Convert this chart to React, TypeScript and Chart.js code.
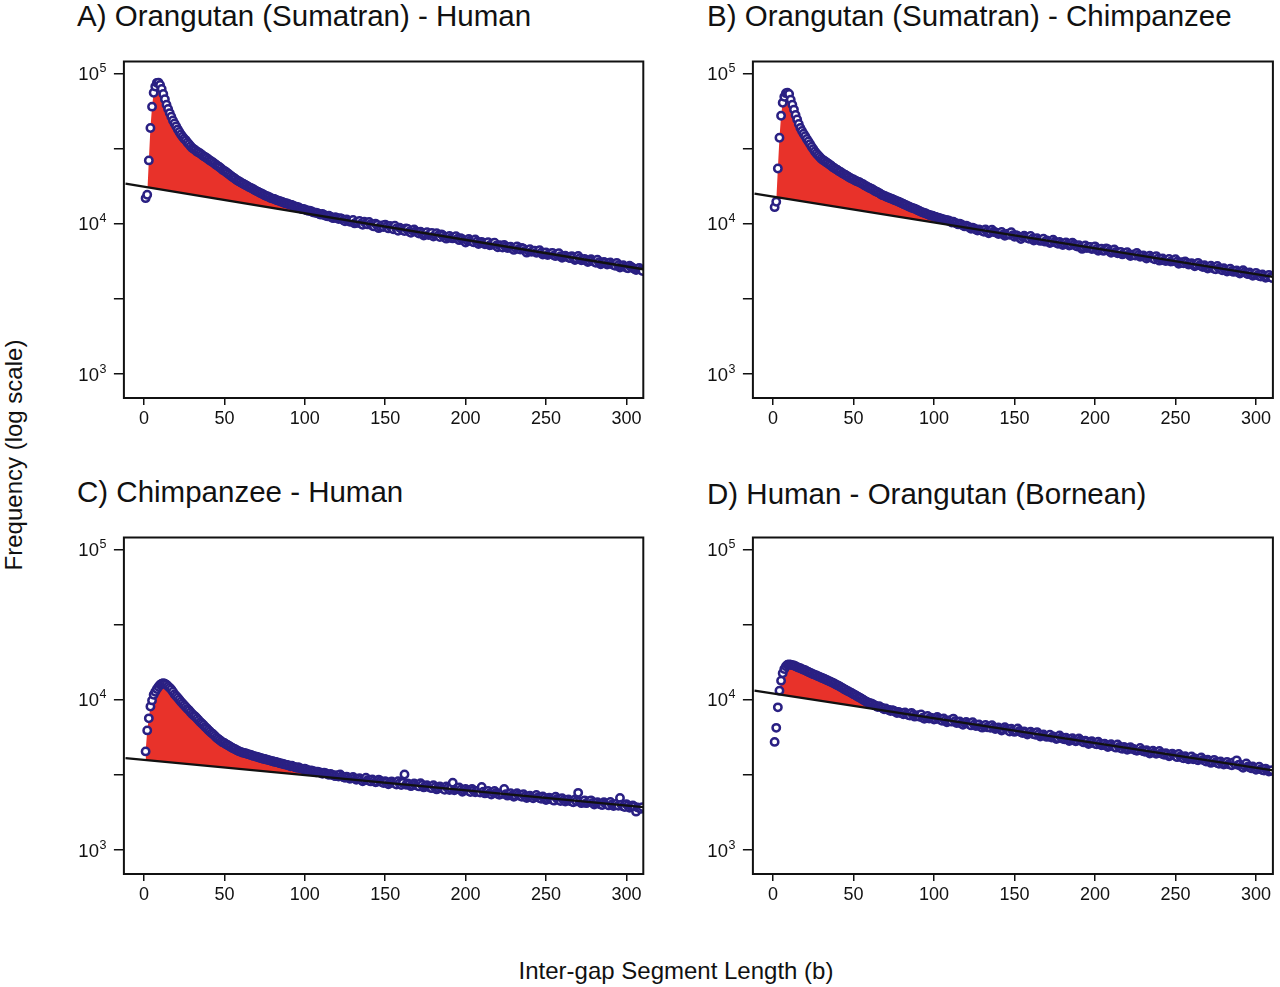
import React, { useEffect, useRef } from 'react';
import { Chart, registerables } from 'chart.js';

Chart.register(...registerables);

const FONT = '"Liberation Sans", Arial, Helvetica, sans-serif';
const NAVY = '#2a2083';
const RED = '#e8322a';
const INK = '#111111';

// Inter-gap segment lengths (b): 1 .. 310
const LENGTHS: number[] = [];
for (let b = 1; b <= 310; b++) LENGTHS.push(b);

// Observed frequencies, in thousands, one value per segment length
const OBS_A = [
  14.8, 15.6, 26.4, 43.4, 60.2, 74.5, 82.0, 86.7, 87.0, 84.0,
  79.0, 73.0, 67.5, 62.0, 58.0, 54.5, 51.5, 48.7, 46.5, 44.5,
  42.5, 40.8, 39.3, 38.0, 36.8, 35.9, 34.8, 33.8, 32.8, 31.9,
  31.4, 30.8, 30.2, 29.8, 29.4, 28.8, 28.2, 27.8, 27.4, 26.9,
  26.4, 26.0, 25.6, 25.1, 24.6, 24.2, 23.8, 23.3, 22.8, 22.5,
  22.1, 21.7, 21.3, 20.9, 20.5, 20.2, 19.8, 19.4, 19.2, 18.9,
  18.6, 18.4, 18.1, 17.9, 17.6, 17.4, 17.2, 17.0, 16.7, 16.5,
  16.3, 16.1, 15.9, 15.7, 15.5, 15.3, 15.2, 15.0, 14.8, 14.7,
  14.6, 14.45, 14.3, 14.2, 14.05, 13.95, 13.8, 13.7, 13.65, 13.5,
  13.4, 13.35, 13.15, 13.05, 12.95, 12.9, 12.7, 12.55, 12.55, 12.45,
  12.3, 12.2, 12.2, 12.1, 11.95, 11.85, 11.85, 11.75, 11.6, 11.5,
  11.6, 11.45, 11.3, 11.2, 11.3, 11.15, 10.95, 10.9, 11.05, 10.95,
  10.75, 10.9, 10.8, 10.55, 10.4, 10.68, 10.5, 10.3, 10.35, 10.6,
  10.05, 10.21, 10.15, 10.42, 10.0, 9.84, 10.3, 10.06, 9.9, 10.28,
  9.95, 9.70, 9.6, 10.02, 9.8, 9.35, 9.55, 9.76, 9.5, 9.87,
  9.6, 9.31, 9.66, 9.42, 9.2, 9.71, 9.3, 8.99, 9.4, 9.28,
  9.05, 8.94, 9.3, 9.22, 8.85, 8.70, 9.0, 9.17, 8.9, 8.74,
  8.6, 8.85, 8.65, 8.34, 8.5, 8.79, 8.42, 8.55, 8.7, 8.23,
  8.4, 8.66, 8.35, 8.17, 8.5, 8.35, 8.1, 7.96, 8.15, 8.30,
  8.05, 7.99, 8.1, 8.25, 7.95, 7.78, 8.0, 7.88, 7.7, 7.50,
  7.75, 7.91, 7.7, 7.61, 7.52, 7.85, 7.6, 7.33, 7.5, 7.58,
  7.45, 7.29, 7.4, 7.53, 7.2, 7.25, 7.38, 7.48, 7.15, 6.98,
  7.2, 7.14, 6.95, 7.22, 7.05, 6.89, 6.95, 7.04, 6.85, 6.70,
  6.9, 7.07, 6.8, 6.73, 6.9, 6.82, 6.6, 6.42, 6.6, 6.77,
  6.5, 6.58, 6.62, 6.40, 6.45, 6.67, 6.42, 6.23, 6.35, 6.43,
  6.2, 6.26, 6.35, 6.40, 6.15, 6.10, 6.25, 6.36, 6.08, 5.94,
  6.05, 6.13, 6.02, 5.96, 5.9, 6.09, 5.95, 5.74, 5.85, 6.10,
  5.9, 5.71, 5.75, 5.84, 5.72, 5.56, 5.65, 5.80, 5.7, 5.58,
  5.5, 5.76, 5.55, 5.38, 5.45, 5.56, 5.5, 5.35, 5.42, 5.52,
  5.4, 5.32, 5.25, 5.49, 5.3, 5.12, 5.2, 5.29, 5.18, 5.10,
  5.05, 5.26, 5.15, 5.07, 5.0, 4.92, 5.02, 5.08, 4.95, 4.84,
];

const OBS_B = [
  12.9, 14.0, 23.3, 37.4, 52.4, 63.8, 70.0, 74.0, 74.5, 73.0,
  67.0, 62.0, 57.5, 53.0, 49.5, 46.2, 43.4, 41.4, 39.8, 38.2,
  36.7, 35.3, 33.9, 32.6, 31.4, 30.3, 29.4, 28.6, 27.8, 27.1,
  26.6, 26.2, 25.7, 25.3, 24.8, 24.4, 23.9, 23.5, 23.1, 22.8,
  22.4, 22.1, 21.7, 21.4, 21.1, 20.8, 20.5, 20.2, 19.9, 19.7,
  19.4, 19.2, 19.0, 18.8, 18.5, 18.3, 18.0, 17.8, 17.5, 17.3,
  17.1, 16.9, 16.6, 16.4, 16.2, 16.0, 15.7, 15.5, 15.4, 15.2,
  15.05, 14.9, 14.75, 14.6, 14.45, 14.3, 14.15, 14.0, 13.85, 13.7,
  13.55, 13.4, 13.25, 13.1, 12.95, 12.8, 12.7, 12.6, 12.45, 12.3,
  12.15, 12.0, 11.9, 11.8, 11.7, 11.55, 11.45, 11.35, 11.3, 11.2,
  11.1, 11.0, 10.95, 10.85, 10.75, 10.7, 10.6, 10.55, 10.5, 10.4,
  10.2, 10.3, 10.15, 10.05, 9.9, 10.0, 9.9, 9.75, 9.6, 9.7,
  9.6, 9.45, 9.25, 9.4, 9.3, 9.15, 9.0, 9.15, 9.05, 8.97,
  8.85, 9.17, 8.9, 8.65, 8.8, 9.12, 8.85, 8.78, 8.7, 8.54,
  8.65, 8.81, 8.5, 8.31, 8.45, 8.59, 8.45, 8.78, 8.4, 8.20,
  8.38, 8.30, 8.1, 7.91, 8.15, 8.33, 8.2, 8.03, 7.95, 8.28,
  7.95, 7.74, 7.9, 8.00, 7.8, 7.69, 7.75, 7.95, 7.6, 7.73,
  7.65, 7.44, 7.55, 7.84, 7.6, 7.47, 7.35, 7.56, 7.4, 7.21,
  7.35, 7.52, 7.3, 7.16, 7.25, 7.48, 7.3, 7.13, 7.05, 7.21,
  7.0, 6.80, 6.95, 7.17, 6.9, 6.97, 7.0, 6.78, 6.85, 7.07,
  6.8, 6.61, 6.7, 6.83, 6.6, 6.63, 6.85, 6.78, 6.55, 6.40,
  6.55, 6.75, 6.5, 6.36, 6.45, 6.50, 6.25, 6.33, 6.4, 6.47,
  6.25, 6.10, 6.2, 6.24, 6.15, 6.38, 6.2, 6.03, 6.1, 6.16,
  6.0, 5.87, 6.0, 6.12, 5.95, 5.89, 5.8, 6.09, 5.85, 5.68,
  5.8, 5.87, 5.7, 5.65, 5.75, 5.83, 5.6, 5.62, 5.7, 5.80,
  5.6, 5.42, 5.5, 5.54, 5.45, 5.61, 5.5, 5.35, 5.38, 5.46,
  5.35, 5.21, 5.3, 5.49, 5.3, 5.24, 5.15, 5.29, 5.18, 5.04,
  5.12, 5.26, 5.1, 5.02, 4.98, 5.23, 5.05, 4.99, 4.9, 5.05,
  4.95, 4.81, 4.9, 5.02, 4.85, 4.78, 4.82, 4.89, 4.75, 4.66,
  4.75, 4.91, 4.78, 4.68, 4.62, 4.74, 4.65, 4.51, 4.6, 4.71,
  4.55, 4.49, 4.45, 4.60, 4.5, 4.37, 4.42, 4.57, 4.4, 4.35,
];

const OBS_C = [
  4.53, 6.25, 7.52, 9.02, 9.9, 10.8, 11.3, 11.8, 12.2, 12.6,
  12.8, 12.9, 12.8, 12.6, 12.3, 12.0, 11.7, 11.3, 10.9, 10.6,
  10.3, 10.0, 9.7, 9.45, 9.2, 8.95, 8.7, 8.5, 8.25, 8.05,
  7.85, 7.7, 7.5, 7.3, 7.1, 6.95, 6.8, 6.6, 6.45, 6.3,
  6.15, 6.0, 5.9, 5.75, 5.6, 5.5, 5.4, 5.3, 5.2, 5.15,
  5.05, 5.0, 4.92, 4.85, 4.78, 4.72, 4.66, 4.6, 4.55, 4.5,
  4.46, 4.43, 4.4, 4.37, 4.33, 4.3, 4.27, 4.23, 4.2, 4.17,
  4.14, 4.11, 4.08, 4.05, 4.03, 4.0, 3.98, 3.95, 3.92, 3.9,
  3.87, 3.85, 3.83, 3.8, 3.77, 3.75, 3.72, 3.7, 3.68, 3.66,
  3.61, 3.64, 3.59, 3.56, 3.52, 3.55, 3.5, 3.48, 3.44, 3.47,
  3.43, 3.40, 3.36, 3.39, 3.35, 3.33, 3.29, 3.32, 3.3, 3.26,
  3.22, 3.27, 3.24, 3.20, 3.16, 3.21, 3.17, 3.13, 3.1, 3.15,
  3.08, 3.18, 3.1, 3.05, 3.02, 3.07, 3.04, 2.98, 3.0, 3.06,
  2.99, 2.93, 2.97, 3.00, 2.94, 2.87, 2.93, 3.03, 2.91, 2.90,
  2.86, 2.95, 2.89, 2.82, 2.85, 2.94, 2.88, 2.82, 2.79, 2.87,
  2.83, 2.74, 2.8, 2.86, 2.82, 2.77, 2.73, 2.87, 2.78, 2.71,
  2.79, 3.18, 2.72, 2.77, 2.74, 2.66, 2.7, 2.77, 2.73, 2.68,
  2.65, 2.78, 2.71, 2.61, 2.66, 2.70, 2.64, 2.60, 2.58, 2.70,
  2.62, 2.53, 2.58, 2.65, 2.61, 2.56, 2.52, 2.65, 2.59, 2.51,
  2.57, 2.80, 2.5, 2.54, 2.58, 2.61, 2.52, 2.44, 2.49, 2.55,
  2.5, 2.47, 2.43, 2.55, 2.49, 2.42, 2.46, 2.48, 2.41, 2.63,
  2.44, 2.38, 2.42, 2.47, 2.39, 2.34, 2.41, 2.47, 2.4, 2.36,
  2.33, 2.39, 2.37, 2.55, 2.35, 2.30, 2.33, 2.39, 2.31, 2.26,
  2.3, 2.39, 2.33, 2.29, 2.26, 2.35, 2.28, 2.22, 2.26, 2.30,
  2.25, 2.21, 2.27, 2.32, 2.24, 2.22, 2.19, 2.27, 2.22, 2.15,
  2.18, 2.23, 2.2, 2.16, 2.13, 2.26, 2.19, 2.16, 2.12, 2.21,
  2.15, 2.10, 2.14, 2.17, 2.12, 2.10, 2.08, 2.17, 2.11, 2.40,
  2.1, 2.05, 2.09, 2.14, 2.05, 2.07, 2.11, 2.14, 2.06, 2.01,
  2.05, 2.08, 2.03, 2.01, 1.99, 2.08, 2.04, 2.02, 1.98, 2.09,
  2.01, 1.96, 1.99, 2.03, 1.97, 2.22, 2.0, 1.95, 1.93, 2.02,
  1.97, 1.91, 1.95, 1.98, 1.94, 1.80, 1.92, 1.90, 1.88, 1.93,
];

const OBS_D = [
  5.24, 6.5, 8.9, 11.5, 13.4, 15.0, 16.0, 16.7, 17.1, 17.2,
  17.1, 17.0, 16.9, 16.7, 16.5, 16.35, 16.2, 16.0, 15.85, 15.7,
  15.5, 15.3, 15.15, 14.95, 14.8, 14.65, 14.5, 14.35, 14.2, 14.0,
  13.9, 13.75, 13.6, 13.45, 13.3, 13.15, 13.0, 12.85, 12.65, 12.5,
  12.35, 12.15, 12.0, 11.8, 11.65, 11.5, 11.35, 11.2, 11.05, 10.9,
  10.75, 10.6, 10.45, 10.3, 10.15, 10.0, 9.85, 9.7, 9.6, 9.5,
  9.45, 9.35, 9.2, 9.1, 8.95, 9.05, 8.9, 8.8, 8.65, 8.75,
  8.6, 8.55, 8.4, 8.52, 8.45, 8.33, 8.15, 8.3, 8.2, 8.12,
  8.0, 8.22, 8.05, 7.92, 7.85, 8.18, 7.95, 7.72, 7.8, 7.90,
  7.7, 7.99, 7.6, 7.47, 7.65, 7.79, 7.5, 7.59, 7.55, 7.38,
  7.45, 7.69, 7.5, 7.35, 7.25, 7.51, 7.3, 7.09, 7.2, 7.32,
  7.15, 7.49, 7.2, 7.00, 7.05, 7.16, 6.95, 6.82, 7.0, 7.12,
  6.95, 6.86, 6.75, 7.09, 6.85, 6.68, 6.75, 6.84, 6.6, 6.52,
  6.7, 6.80, 6.55, 6.62, 6.5, 6.77, 6.55, 6.39, 6.45, 6.53,
  6.4, 6.23, 6.35, 6.56, 6.4, 6.27, 6.15, 6.41, 6.25, 6.11,
  6.2, 6.43, 6.2, 6.08, 6.0, 6.15, 6.05, 5.87, 5.98, 6.12,
  5.95, 5.90, 5.85, 6.09, 5.9, 5.69, 5.8, 5.88, 5.75, 5.66,
  5.72, 5.85, 5.6, 5.69, 5.62, 5.48, 5.55, 5.78, 5.6, 5.50,
  5.45, 5.58, 5.47, 5.32, 5.42, 5.55, 5.4, 5.29, 5.35, 5.52,
  5.38, 5.27, 5.2, 5.33, 5.25, 5.08, 5.15, 5.30, 5.2, 5.10,
  5.05, 5.26, 5.1, 4.97, 5.0, 5.09, 4.98, 4.85, 4.92, 5.06,
  4.95, 4.87, 4.8, 5.04, 4.85, 4.75, 4.72, 4.86, 4.75, 4.64,
  4.7, 4.83, 4.72, 4.70, 4.62, 4.58, 4.65, 4.77, 4.6, 4.55,
  4.5, 4.61, 4.52, 4.39, 4.45, 4.58, 4.46, 4.37, 4.42, 4.56,
  4.4, 4.35, 4.3, 4.40, 4.32, 4.20, 4.25, 4.38, 4.28, 4.22,
  4.15, 4.36, 4.2, 4.12, 4.08, 4.21, 4.12, 4.02, 4.1, 4.19,
  4.02, 4.07, 4.0, 3.96, 4.05, 4.13, 3.98, 3.94, 3.88, 3.99,
  3.92, 3.80, 3.86, 3.98, 3.84, 3.79, 3.75, 3.88, 3.78, 3.70,
  3.76, 3.86, 3.72, 3.71, 3.66, 3.83, 3.72, 3.95, 3.68, 3.71,
  3.6, 3.53, 3.64, 3.76, 3.6, 3.55, 3.5, 3.60, 3.52, 3.42,
  3.5, 3.58, 3.45, 3.41, 3.38, 3.48, 3.4, 3.33, 3.36, 3.40,
];

// Fitted exponential background (straight on the log axis), in thousands at the two ends
const FIT_X = [-11.5, 310.5];
const FIT_A = [18.51, 4.98];
const FIT_B = [15.88, 4.43];
const FIT_C = [4.09, 1.93];
const FIT_D = [11.49, 3.39];

const TITLES = [
  'A) Orangutan (Sumatran) - Human',
  'B) Orangutan (Sumatran) - Chimpanzee',
  'C) Chimpanzee - Human',
  'D) Human - Orangutan (Bornean)',
];

const X_MIN = -12.5;
const X_MAX = 310.5;
const X_TICKS = [0, 50, 100, 150, 200, 250, 300];
const Y_MIN = 692;
const Y_MAX = 120226;
const Y_TICKS = [1000, 3162.3, 10000, 31623, 100000];
const Y_LABEL_EXPONENTS = [3, 4, 5];

const boxAndPowerLabels = {
  id: 'boxAndPowerLabels',
  afterDraw(chart: any) {
    const { ctx, chartArea } = chart;
    const yScale = chart.scales.y;
    ctx.save();
    ctx.fillStyle = INK;
    ctx.textAlign = 'right';
    ctx.textBaseline = 'alphabetic';
    for (const e of Y_LABEL_EXPONENTS) {
      const py = yScale.getPixelForValue(Math.pow(10, e));
      const right = chartArea.left - 17.5;
      ctx.font = `12.5px ${FONT}`;
      const sup = String(e);
      const supW = ctx.measureText(sup).width;
      ctx.fillText(sup, right, py - 1.3);
      ctx.font = `18.5px ${FONT}`;
      ctx.fillText('10', right - supW - 0.5, py + 6.7);
    }
    ctx.lineWidth = 2;
    ctx.strokeStyle = INK;
    ctx.strokeRect(
      chartArea.left,
      chartArea.top,
      chartArea.right - chartArea.left,
      chartArea.bottom - chartArea.top
    );
    ctx.restore();
  },
};

type PanelProps = {
  obs: number[];
  fit: number[];
  left: number;
  top: number;
  width: number;
  axisWidth: number;
  rightPad: number;
};

const CANVAS_H = 385;

function Panel({ obs, fit, left, top, width, axisWidth, rightPad }: PanelProps) {
  const ref = useRef<HTMLCanvasElement | null>(null);

  useEffect(() => {
    if (!ref.current) return;
    const chart = new Chart(ref.current, {
      type: 'line',
      data: {
        datasets: [
          {
            data: LENGTHS.map((b, i) => ({ x: b, y: obs[i] * 1000 })),
            showLine: false,
            tension: 0,
            pointRadius: 3.7,
            pointBorderWidth: 2.5,
            pointBackgroundColor: '#ffffff',
            pointBorderColor: NAVY,
            borderColor: NAVY,
            fill: { target: 1, above: RED, below: 'rgba(0,0,0,0)' },
            order: 1,
          },
          {
            data: FIT_X.map((x, i) => ({ x, y: fit[i] * 1000 })),
            borderColor: INK,
            borderWidth: 2.4,
            pointRadius: 0,
            tension: 0,
            fill: false,
            order: 0,
          },
        ],
      } as any,
      options: {
        responsive: false,
        animation: false,
        events: [],
        layout: { padding: { top: 6, right: rightPad, bottom: 0, left: 0 } },
        plugins: {
          legend: { display: false },
          tooltip: { enabled: false },
          title: { display: false },
        },
        scales: {
          x: {
            type: 'linear',
            min: X_MIN,
            max: X_MAX,
            afterBuildTicks: (s: any) => {
              s.ticks = X_TICKS.map((v) => ({ value: v }));
            },
            afterFit: (s: any) => {
              s.height = CANVAS_H - 6 - 337;
            },
            ticks: {
              font: { family: FONT, size: 18 },
              color: INK,
              padding: 3,
              maxRotation: 0,
              autoSkip: false,
            },
            grid: {
              drawOnChartArea: false,
              drawTicks: true,
              tickLength: 7,
              color: INK,
              lineWidth: 1.5,
            },
            border: { display: false },
          },
          y: {
            type: 'logarithmic',
            min: Y_MIN,
            max: Y_MAX,
            afterBuildTicks: (s: any) => {
              s.ticks = Y_TICKS.map((v) => ({ value: v }));
            },
            afterFit: (s: any) => {
              s.width = axisWidth;
            },
            ticks: { display: false },
            grid: {
              drawOnChartArea: false,
              drawTicks: true,
              tickLength: 10,
              color: INK,
              lineWidth: 1.5,
            },
            border: { display: false },
          },
        },
      } as any,
      plugins: [boxAndPowerLabels],
    });
    return () => chart.destroy();
  }, [obs, fit, axisWidth, rightPad]);

  return (
    <canvas
      ref={ref}
      width={width}
      height={CANVAS_H}
      style={{ position: 'absolute', left, top, width, height: CANVAS_H }}
    />
  );
}

const titleStyle = (left: number, top: number): React.CSSProperties => ({
  position: 'absolute',
  left,
  top,
  fontSize: 29.5,
  lineHeight: 1,
  whiteSpace: 'nowrap',
  color: INK,
});

export default function App() {
  return (
    <div
      style={{
        position: 'absolute',
        left: 0,
        top: 0,
        width: 1280,
        height: 987,
        background: '#ffffff',
        fontFamily: FONT,
        overflow: 'hidden',
      }}
    >
      <div style={titleStyle(77, 1)}>{TITLES[0]}</div>
      <div style={titleStyle(707, 1)}>{TITLES[1]}</div>
      <div style={titleStyle(77, 477)}>{TITLES[2]}</div>
      <div style={titleStyle(707, 479)}>{TITLES[3]}</div>

      <Panel obs={OBS_A} fit={FIT_A} left={60} top={55} width={600} axisWidth={63.9} rightPad={16.7} />
      <Panel obs={OBS_B} fit={FIT_B} left={690} top={55} width={590} axisWidth={62.9} rightPad={7.1} />
      <Panel obs={OBS_C} fit={FIT_C} left={60} top={531} width={600} axisWidth={63.9} rightPad={16.7} />
      <Panel obs={OBS_D} fit={FIT_D} left={690} top={531} width={590} axisWidth={62.9} rightPad={7.1} />

      <div
        style={{
          position: 'absolute',
          left: 376,
          top: 959,
          width: 600,
          textAlign: 'center',
          fontSize: 24,
          lineHeight: 1,
          color: INK,
          whiteSpace: 'nowrap',
        }}
      >
        Inter-gap Segment Length (b)
      </div>
      <div
        style={{
          position: 'absolute',
          left: 14 - 200,
          top: 455 - 12,
          width: 400,
          height: 24,
          textAlign: 'center',
          fontSize: 24,
          lineHeight: '24px',
          color: INK,
          whiteSpace: 'nowrap',
          transform: 'rotate(-90deg)',
        }}
      >
        Frequency (log scale)
      </div>
    </div>
  );
}
